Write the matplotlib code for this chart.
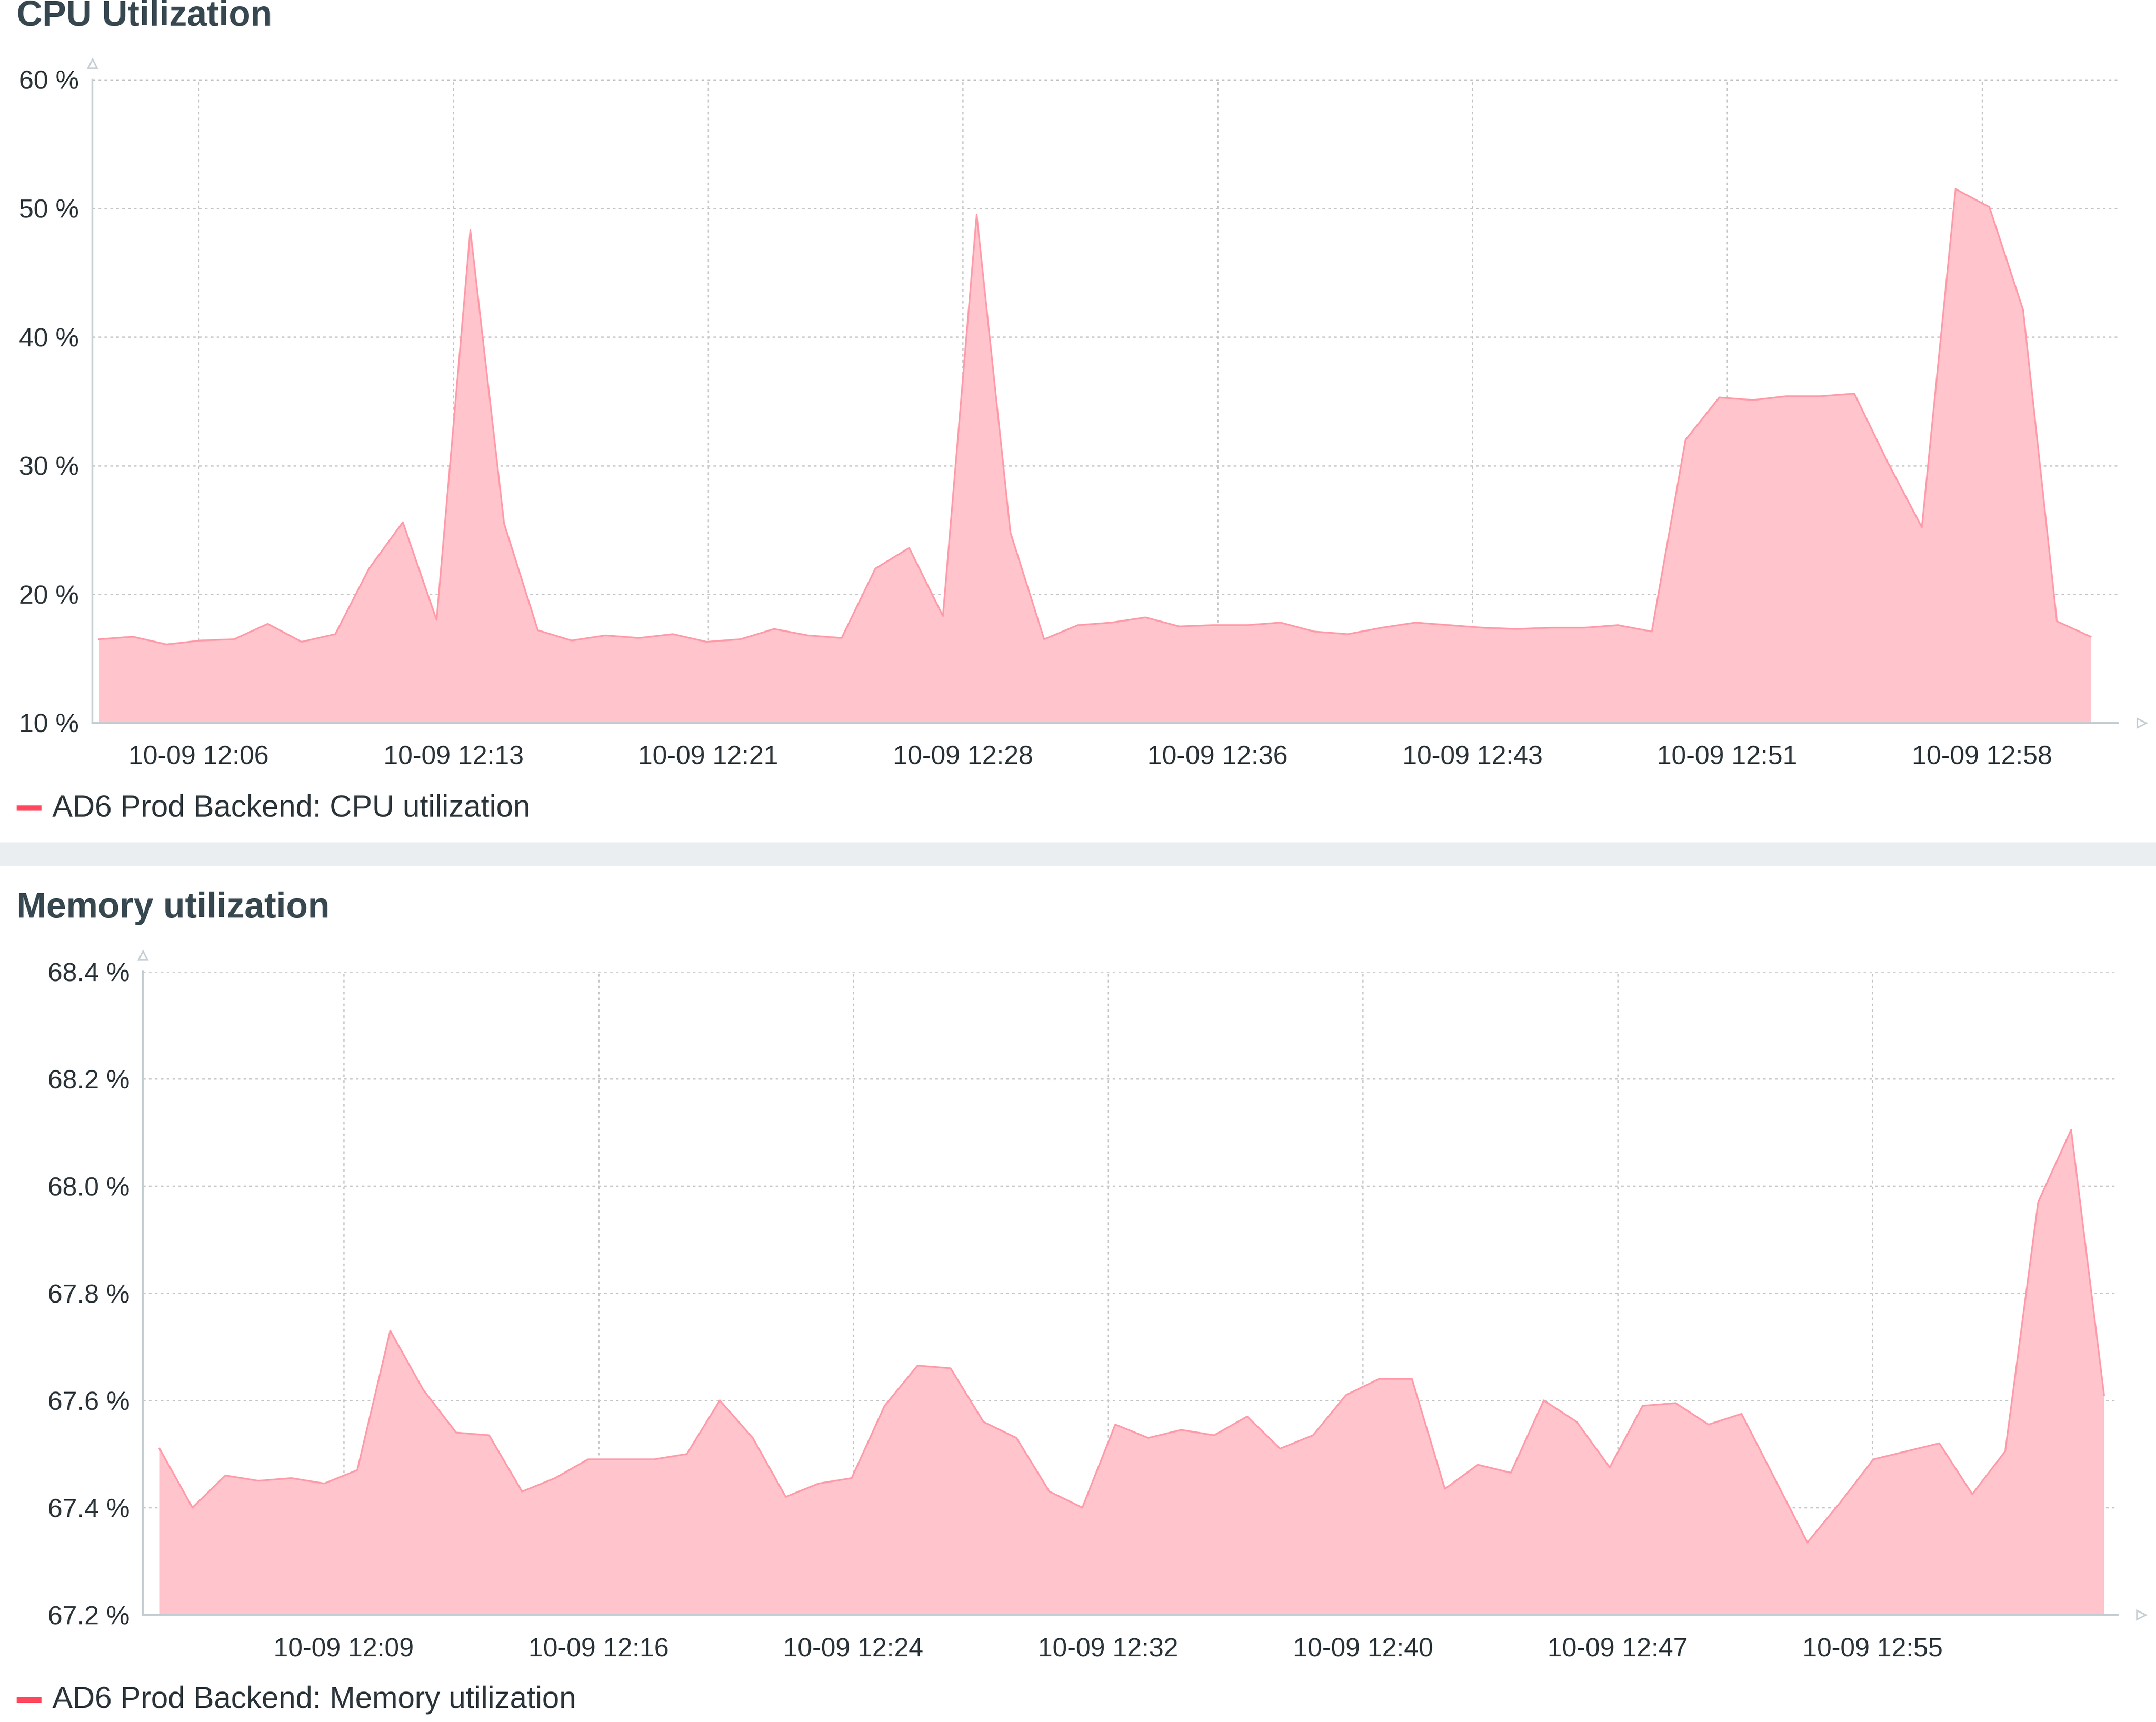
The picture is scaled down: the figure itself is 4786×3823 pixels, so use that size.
import matplotlib
matplotlib.use("Agg")
import matplotlib.pyplot as plt
from matplotlib.patches import Rectangle

plt.rcParams['font.family'] = ['Liberation Sans', 'DejaVu Sans']

cpu_values = [16.5, 16.7, 16.1, 16.4, 16.5, 17.7, 16.3, 16.9, 22.0, 25.6, 18.0, 48.3, 25.5, 17.2, 16.4,
              16.8, 16.6, 16.9, 16.3, 16.5, 17.3, 16.8, 16.6, 22.0, 23.6, 18.3, 49.5, 24.8, 16.5, 17.6,
              17.8, 18.2, 17.5, 17.6, 17.6, 17.8, 17.1, 16.9, 17.4, 17.8, 17.6, 17.4, 17.3, 17.4, 17.4,
              17.6, 17.1, 32.0, 35.3, 35.1, 35.4, 35.4, 35.6, 30.2, 25.2, 51.5, 50.1, 42.1, 17.9, 16.7]
cpu_tick_labels = ["10-09 12:06", "10-09 12:13", "10-09 12:21", "10-09 12:28",
                   "10-09 12:36", "10-09 12:43", "10-09 12:51", "10-09 12:58"]
cpu_yticks = [10, 20, 30, 40, 50, 60]

mem_values = [67.51, 67.40, 67.46, 67.45, 67.455, 67.445, 67.47, 67.73, 67.62, 67.54, 67.535, 67.43,
              67.455, 67.49, 67.49, 67.49, 67.50, 67.60, 67.53, 67.42, 67.445, 67.455, 67.59, 67.665,
              67.66, 67.56, 67.53, 67.43, 67.40, 67.555, 67.53, 67.545, 67.535, 67.57, 67.51, 67.535,
              67.61, 67.64, 67.64, 67.435, 67.48, 67.465, 67.60, 67.56, 67.475, 67.59, 67.595, 67.555,
              67.575, 67.455, 67.335, 67.41, 67.49, 67.505, 67.52, 67.425, 67.505, 67.97, 68.105, 67.61]
mem_tick_labels = ["10-09 12:09", "10-09 12:16", "10-09 12:24", "10-09 12:32",
                   "10-09 12:40", "10-09 12:47", "10-09 12:55"]
mem_yticks = [67.2, 67.4, 67.6, 67.8, 68.0, 68.2, 68.4]

W, H = 1568, 1253
fig = plt.figure(figsize=(4786/300, 3823/300), dpi=300)
fig.patch.set_facecolor('white')

FILL = '#ffc4cc'
LINE = '#ff9aa8'
TXT = '#2a3338'
AX = '#c5ced3'


def make_axes(x0, x1, ytop, ybot):
    return fig.add_axes([x0/W, 1-ybot/H, (x1-x0)/W, (ybot-ytop)/H])


def style(ax, xticks, xlabels, yticks, ylabels, ylim, xlim):
    ax.set_xlim(*xlim)
    ax.set_ylim(*ylim)
    ax.set_xticks(xticks)
    ax.set_xticklabels(xlabels)
    ax.set_yticks(yticks)
    ax.set_yticklabels(ylabels)
    ax.tick_params(length=0, labelsize=14, labelcolor=TXT, pad=7)
    ax.tick_params(axis='x', pad=12)
    for s in ['top', 'right']:
        ax.spines[s].set_visible(False)
    for s in ['left', 'bottom']:
        ax.spines[s].set_color(AX)
        ax.spines[s].set_linewidth(1.0)
    ax.grid(True, color='#c8c8c8', linestyle=(0, (2, 2.5)), linewidth=0.7)
    ax.set_axisbelow(True)
    ax.set_facecolor('white')
    ax.plot(0, 1.025, marker='^', transform=ax.transAxes, clip_on=False,
            ms=5, mfc='white', mec=AX, mew=0.8)
    ax.plot(1.012, 0, marker='>', transform=ax.transAxes, clip_on=False,
            ms=5, mfc='white', mec=AX, mew=0.8)


# CPU
ax1 = make_axes(67, 1540, 58, 526)
x1 = list(range(len(cpu_values)))
ax1.fill_between(x1, 10, cpu_values, color=FILL, lw=0)
ax1.plot(x1, cpu_values, color=LINE, lw=0.9)
style(ax1, [2.95 + 7.547*k for k in range(len(cpu_tick_labels))], cpu_tick_labels,
      cpu_yticks, [f"{v} %" for v in cpu_yticks], (10, 60),
      ((67-72)/24.55, (1540-72)/24.55))

# Memory
ax2 = make_axes(104, 1540, 707, 1175)
x2 = list(range(len(mem_values)))
ax2.fill_between(x2, 67.2, mem_values, color=FILL, lw=0)
ax2.plot(x2, mem_values, color=LINE, lw=0.9)
style(ax2, [(250-116)/23.97 + 7.73*k for k in range(len(mem_tick_labels))], mem_tick_labels,
      mem_yticks, [f"{v:.1f} %" for v in mem_yticks], (67.2, 68.4),
      ((104-116)/23.97, (1540-116)/23.97))

# titles
fig.text(12/W, 1-12/H, "CPU Utilization", fontsize=19, fontweight='bold', color='#37474f', va='center')
fig.text(12/W, 1-661/H, "Memory utilization", fontsize=19, fontweight='bold', color='#37474f', va='center')

# legends
for y, label in [(588, "AD6 Prod Backend: CPU utilization"),
                 (1237, "AD6 Prod Backend: Memory utilization")]:
    fig.patches.append(Rectangle((12/W, 1-(y+2)/H), 18/W, 4/H, transform=fig.transFigure,
                                 color='#ff465c', lw=0))
    fig.text(38/W, 1-y/H, label, fontsize=16.3, color=TXT, va='center')

# separator band
fig.patches.append(Rectangle((0, 1-630/H), 1, 17/H, transform=fig.transFigure,
                             color='#ebeef0', lw=0))

fig.savefig('out.png', dpi=300)
